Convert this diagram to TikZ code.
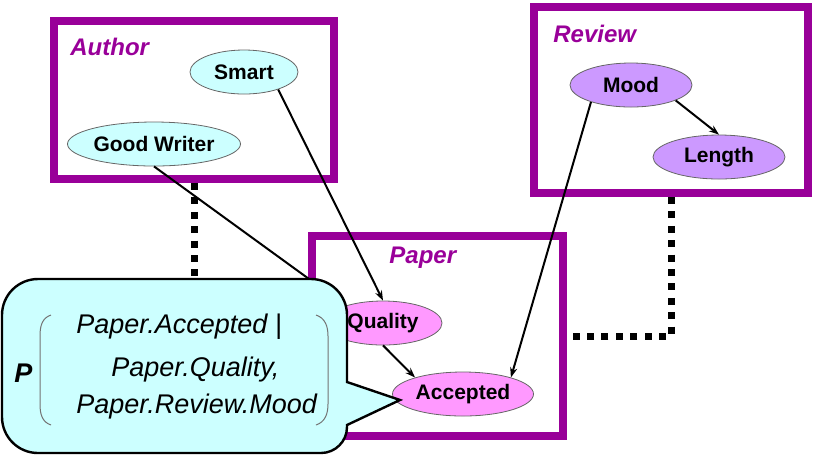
\documentclass[tikz,border=0pt]{standalone}
\usepackage{fontspec}
\setmainfont{Liberation Sans}
\usetikzlibrary{positioning}
\usetikzlibrary{shapes.geometric}
\usetikzlibrary{fit}
\usetikzlibrary{arrows.meta}
\definecolor{plate colour}{HTML}{990099}
\definecolor{author colour}{HTML}{CCFFFF}
\definecolor{review colour}{HTML}{CC99FF}
\definecolor{paper colour}{HTML}{FF99FF}
\colorlet{callout colour}{author colour}
\tikzset{
    % Reasonably close to the heads in the original
    >={Stealth[length=5pt, width=3.6pt]},
%
    % Class plates and their titles
    plate/.style={draw=plate colour, rectangle, line width=4pt, inner sep=0},
    plate label/.style={anchor=base west, inner sep=0, text=plate colour,
        font=\fontsize{12}{14}\selectfont\bfseries\itshape},
    % Attributes are filled ellipses
    attribute/.style={draw=black!60, ellipse, line width=0.4pt, inner sep=0,
        minimum height=22pt, font=\fontsize{10.5}{12}\selectfont\bfseries},
    author fill/.style={fill=author colour},
    review fill/.style={fill=review colour},
    paper fill/.style={fill=paper colour},
    % Next some lines
    dependency/.style={draw, line width=1pt, ->},
    slot chain/.style={line width=3.5pt, dash pattern=on 3.5pt off 3.7pt},
}

\begin{document}
\begin{tikzpicture}[
    callout/.style={draw, fill=callout colour, line width=1.2pt},
    formula/.style={anchor=base west, inner sep=0,
        font=\fontsize{13.5}{16}\selectfont\itshape},
    paren/.style={draw=black!55, line width=0.5pt},
    x=0.5pt, y=-0.5pt,
]
\useasboundingbox (0,0) rectangle (814,463);

\node (author) [plate, fit={(54,21) (334,179)}] {};
\node (review) [plate, fit={(534,7) (808,193)}] {};
\node (paper) [plate, fit={(312,236) (563,436)}] {};
\path
    (70,55) node (author label) [plate label] {Author}
    (553,42) node (review label) [plate label] {Review}
    (389,263) node (paper label) [plate label] {Paper};

% Slot chains between the classes
\draw [slot chain] (author.south) |- (paper.west);
\draw [slot chain] (review.south) |- (paper.east);

\path
    (244,72) node (smart) [attribute, author fill, minimum width=54pt] {Smart}
    (154,144) node (good writer) [attribute, author fill, minimum width=86.5pt] {Good Writer}
    (631,85) node (mood) [attribute, review fill, minimum width=61pt] {Mood}
    (719,157) node (length) [attribute, review fill, minimum width=66pt] {Length}
    (383,323) node (quality) [attribute, paper fill, minimum width=59pt] {Quality}
    (463,394) node (accepted) [attribute, paper fill, minimum width=70.5pt] {Accepted};

\draw [dependency] (smart.-27) -- (quality.north);
\draw [dependency] (good writer.south) -- (quality.155);
\draw [dependency] (mood.-19) -- (length.north);
\draw [dependency] (mood.203) -- (accepted.19);
\draw [dependency] (quality.south) -- (accepted.161);

% The callout is drawn last so that it hides what lies behind it
\draw [callout] (400,400) -- (347,425) [rounded corners=13pt] -- (347,453)
    [rounded corners=18pt] -- (2,453) -- (2,279) -- (347,279)
    [sharp corners] -- (347,382) -- cycle;
\draw [paren] (51,315) .. controls (42,318) and (40,326) .. (40,336)
    -- (40,404) .. controls (40,414) and (42,422) .. (51,425);
\draw [paren] (316,315) .. controls (325,318) and (328,326) .. (328,336)
    -- (328,404) .. controls (328,414) and (325,422) .. (316,425);
\path
    (14,382) node (prob) [formula, font=\fontsize{13.5}{16}\selectfont\bfseries\itshape] {P}
    (76,333) node (formula top) [formula] {Paper.Accepted |}
    (111,376) node (formula middle) [formula] {Paper.Quality,}
    (76,413) node (formula bottom) [formula] {Paper.Review.Mood};

\end{tikzpicture}
\end{document}
